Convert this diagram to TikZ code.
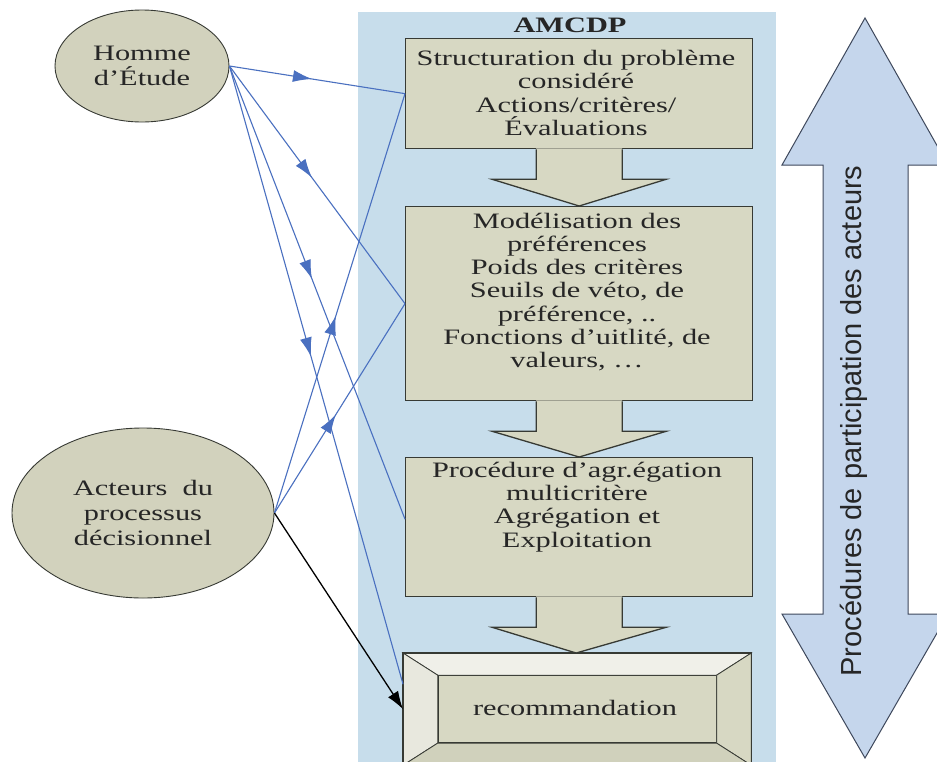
\documentclass[tikz,border=0pt]{standalone}
\usepackage{fontspec}
\setmainfont{Liberation Serif}
\setsansfont{Liberation Sans}
\newfontfamily\boxfont[FakeStretch=1.38]{Liberation Serif}
\usepackage{tikz}
\usetikzlibrary{arrows.meta, positioning, calc, shapes.geometric, decorations.markings}

\definecolor{panneau}{RGB}{199,221,235}
\definecolor{beige}{RGB}{215,216,195}
\definecolor{beigeclair}{RGB}{240,240,233}
\definecolor{beigegauche}{RGB}{232,232,222}
\definecolor{beigesombre}{RGB}{208,209,188}
\definecolor{kaki}{RGB}{210,210,189}
\definecolor{gris}{RGB}{55,58,52}
\definecolor{bleulien}{RGB}{74,112,192}
\definecolor{bleuclair}{RGB}{197,214,236}
\definecolor{contourbleu}{RGB}{62,72,92}

\begin{document}
\begin{tikzpicture}[x=1pt, y=1pt, >=Latex,
  boite/.style={draw=gris, line width=1.3pt, fill=beige, minimum width=347pt,
    anchor=north west, inner sep=0pt},
  texte/.style={font=\boxfont\fontsize{22}{23.3}\selectfont, align=center,
    inner sep=0pt, text=black!85},
  acteur/.style={ellipse, draw=gris, line width=0.9pt, fill=kaki, inner sep=0pt,
    align=center, text=black!85, font=\boxfont\fontsize{22}{25}\selectfont},
  lien/.style={draw=bleulien, line width=1.1pt, postaction={decorate},
    decoration={markings, mark=at position 0.47 with {\arrow{Latex[length=19pt,width=12pt]}}}}]
  \useasboundingbox (0,0) rectangle (937,-761);
  \clip (0,0) rectangle (937,-761);
  \fill[white] (0,0) rectangle (937,-761);

  % --- panneau AMCDP ---
  \fill[panneau] (358,-12) rectangle (776,-770);
  \node[font=\boxfont\bfseries\fontsize{22}{24}\selectfont, text=black!85] (amcdp) at (570,-25) {AMCDP};

  % --- etapes ---
  \node[boite, minimum height=110pt] (struct) at (405,-38) {};
  \node[boite, minimum height=194pt] (modele) at (405,-206) {};
  \node[boite, minimum height=139pt] (agreg) at (405,-457) {};

  % fleches entre les etapes
  \foreach \haut/\bas in {struct/modele, modele/agreg} {
    \fill[beige] ($(\haut.south)+(-43,1)$) -- ($(\haut.south)+(-43,-30)$) -- ($(\haut.south)+(-87,-30)$)
      -- (\bas.north) -- ($(\haut.south)+(87,-30)$) -- ($(\haut.south)+(43,-30)$) -- ($(\haut.south)+(43,1)$) -- cycle;
    \draw[gris, line width=1.3pt, line join=miter] ($(\haut.south)+(-43,0)$) -- ($(\haut.south)+(-43,-30)$) -- ($(\haut.south)+(-87,-30)$)
      -- (\bas.north) -- ($(\haut.south)+(87,-30)$) -- ($(\haut.south)+(43,-30)$) -- ($(\haut.south)+(43,0)$);
  }

  % --- recommandation (cadre biseaute) ---
  \node[boite, minimum height=111pt] (recom) at (403,-653) {};
  \node[boite, minimum width=278pt, minimum height=67pt, anchor=center, line width=1pt] (cadre) at (recom.center) {};
  \filldraw[fill=beigeclair, draw=gris, line width=0.8pt] (recom.north west) -- (recom.north east) -- (cadre.north east) -- (cadre.north west) -- cycle;
  \filldraw[fill=beigegauche, draw=gris, line width=0.8pt] (recom.north west) -- (cadre.north west) -- (cadre.south west) -- (recom.south west) -- cycle;
  \filldraw[fill=beige, draw=gris, line width=0.8pt] (recom.north east) -- (recom.south east) -- (cadre.south east) -- (cadre.north east) -- cycle;
  \filldraw[fill=beigesombre, draw=gris, line width=0.8pt] (recom.south west) -- (cadre.south west) -- (cadre.south east) -- (recom.south east) -- cycle;
  \draw[gris, line width=1.3pt] (recom.south west) -- (recom.north west) -- (recom.north east) -- (recom.south east);
  % fleche vers la recommandation
  \fill[beige] ($(agreg.south)+(-43,1)$) -- ($(agreg.south)+(-43,-30)$) -- ($(agreg.south)+(-87,-30)$)
    -- ($(recom.north)+(-1,0)$) -- ($(agreg.south)+(87,-30)$) -- ($(agreg.south)+(43,-30)$) -- ($(agreg.south)+(43,1)$) -- cycle;
  \draw[gris, line width=1.3pt] ($(agreg.south)+(-43,0)$) -- ($(agreg.south)+(-43,-30)$) -- ($(agreg.south)+(-87,-30)$)
    -- ($(recom.north)+(-1,0)$) -- ($(agreg.south)+(87,-30)$) -- ($(agreg.south)+(43,-30)$) -- ($(agreg.south)+(43,0)$);

  % textes des etapes
  \node[texte] (t-struct) at (576,-93) {Structuration du problème\\considéré\\Actions/critères/\\Évaluations};
  \node[texte] (t-modele) at (577,-292) {Modélisation des\\préférences\\Poids des critères\\Seuils de véto, de\\préférence, ..\\Fonctions d’uitlité, de\\valeurs, \dots};
  \node[texte] (t-agreg) at (577,-507) {Procédure d’agr.égation\\multicritère\\Agrégation et\\Exploitation};
  \node[texte] (t-recom) at (575,-708) {recommandation};

  % --- acteurs ---
  \node[acteur, minimum width=174pt, minimum height=112pt] (homme) at (142,-66) {Homme\\d’Étude};
  \node[acteur, minimum width=262pt, minimum height=170pt] (acteurs) at (143,-513) {Acteurs\ \ du\\processus\\décisionnel};

  % liens
  \draw[lien] (homme.east) -- (struct.west);
  \draw[lien] (homme.east) -- (modele.west);
  \draw[lien] (homme.east) -- ([yshift=8pt]agreg.west);
  \draw[lien] (homme.east) -- ([yshift=25pt]recom.west);
  \draw[lien] (acteurs.east) -- (struct.west);
  \draw[lien] (acteurs.east) -- (modele.west);
  \draw[->, line width=1.3pt, >={Latex[length=18pt,width=12pt]}] (acteurs.east) -- (recom.west);

  % --- double fleche de participation ---
  \filldraw[fill=bleuclair, draw=contourbleu, line width=1pt, line join=miter]
    (865,-18) -- (948,-165) -- (908,-165) -- (908,-614) -- (948,-614) -- (865,-758)
    -- (782,-614) -- (823,-614) -- (823,-165) -- (782,-165) -- cycle;
  \node[rotate=90, anchor=base, inner sep=0pt, text=black!85, font=\sffamily\fontsize{29}{34}\selectfont] (procedures) at (861,-421) {Procédures de participation des acteurs};
\end{tikzpicture}
\end{document}
